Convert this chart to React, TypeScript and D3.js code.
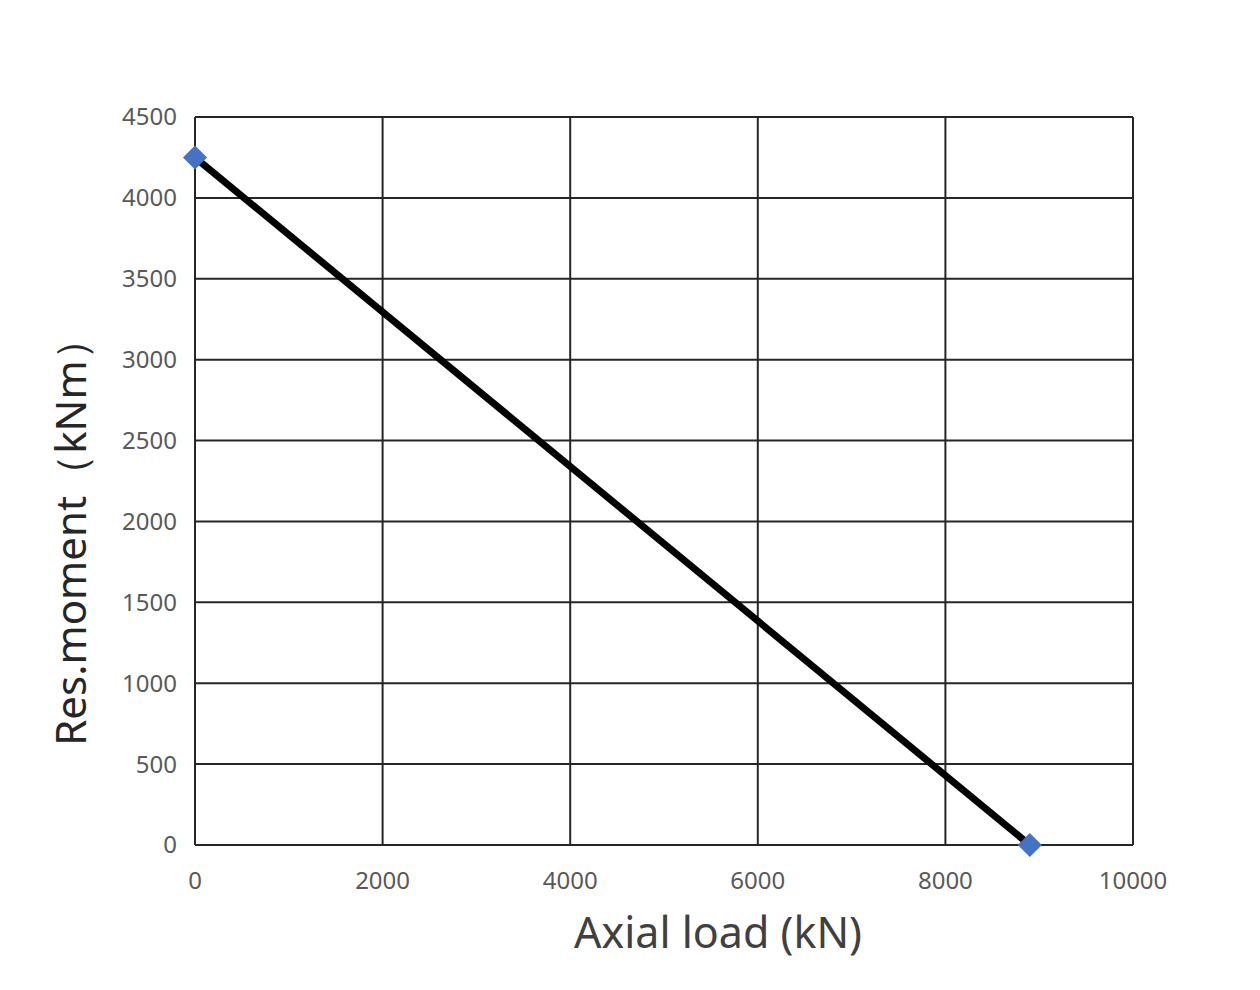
import * as d3 from 'd3'

const axialLoad = [0, 8900]
const resMoment = [4250, 0]
const xTicks = [0, 2000, 4000, 6000, 8000, 10000]
const yTicks = [0, 500, 1000, 1500, 2000, 2500, 3000, 3500, 4000, 4500]

const W = 1260
const H = 990
const left = 195
const right = 1133
const top = 117
const bottom = 845

export default function App() {
  const x = d3.scaleLinear().domain([0, 10000]).range([left, right])
  const y = d3.scaleLinear().domain([0, 4500]).range([bottom, top])

  const pts = axialLoad.map((v, i) => [v, resMoment[i]] as [number, number])
  const line = d3.line<[number, number]>()
    .x(d => x(d[0]))
    .y(d => y(d[1]))

  // square rotated 45deg -> diamond marker
  const marker = d3.symbol().type(d3.symbolSquare).size(290)()
  const font = "'Noto Sans', 'Open Sans', sans-serif"

  return (
    <svg width={W} height={H} style={{ position: 'absolute', left: 0, top: 0 }}>
      <rect width={W} height={H} fill="#fff" />
      {xTicks.map(t => (
        <line key={'gx' + t} x1={x(t)} x2={x(t)} y1={top} y2={bottom} stroke="#262626" strokeWidth={2} />
      ))}
      {yTicks.map(t => (
        <line key={'gy' + t} x1={left} x2={right} y1={y(t)} y2={y(t)} stroke="#262626" strokeWidth={2} />
      ))}
      {xTicks.map(t => (
        <text key={'tx' + t} x={x(t)} y={bottom + 44} textAnchor="middle" fontSize={24} fill="#595959" fontFamily={font}>{t}</text>
      ))}
      {yTicks.map(t => (
        <text key={'ty' + t} x={left - 18} y={y(t)} dy="0.35em" textAnchor="end" fontSize={24} fill="#595959" fontFamily={font}>{t}</text>
      ))}
      <path d={line(pts) ?? ''} fill="none" stroke="#000" strokeWidth={7} />
      {pts.map((p, i) => (
        <path key={'m' + i} d={marker ?? ''} transform={`translate(${x(p[0])},${y(p[1])}) rotate(45)`} fill="#4472C4" />
      ))}
      <text x={718} y={948} textAnchor="middle" fontSize={43} fill="#404040" fontFamily={font}>Axial load (kN)</text>
      <text transform="translate(86,532) rotate(-90)" textAnchor="middle" fontSize={42} fill="#262626" fontFamily={font}>Res.moment（kNm）</text>
    </svg>
  )
}
